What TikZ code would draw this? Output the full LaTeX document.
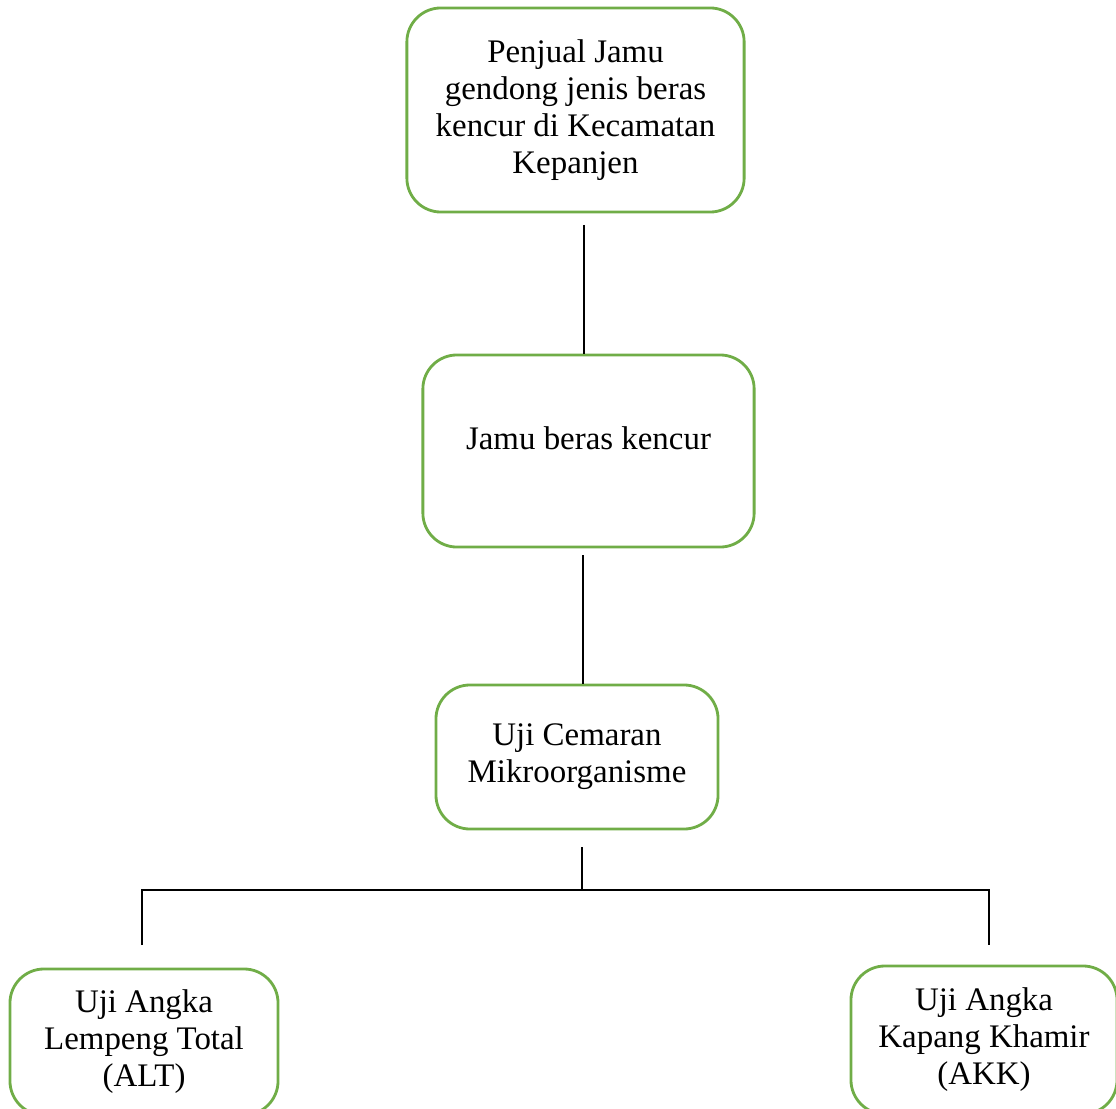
\documentclass[tikz,border=0pt]{standalone}
\usepackage{fontspec}
\setmainfont{Liberation Serif}
\usepackage{tikz}

\definecolor{boxgreen}{HTML}{70AD47}

\begin{document}
\begin{tikzpicture}[x=0.025cm, y=-0.025cm,
        stepbox/.style = {draw=boxgreen, line width=2pt, rounded corners=0.85cm,
            align=center, font = {\fontsize{23.4}{26.3}\selectfont}, text=black},
        link/.style = {black, line width=0.8pt}]
        \useasboundingbox (0,0) rectangle (1116,1109);
        \clip (0,0) rectangle (1116,1109);

        % boxes
        \node[stepbox, minimum width=8.43cm, minimum height=5.1cm] (penjual) at (575.5, 110)
            {Penjual Jamu\\gendong jenis beras\\kencur di Kecamatan\\Kepanjen};
        \node[stepbox, minimum width=8.28cm, minimum height=4.8cm, text depth=0.63cm] (jamu) at (588.5, 451)
            {Jamu beras kencur};
        \node[stepbox, minimum width=7.05cm, minimum height=3.6cm] (cemaran) at (577, 757)
            {Uji Cemaran\\Mikroorganisme};
        \node[stepbox, minimum width=6.7cm, minimum height=3.65cm] (alt) at (144, 1042)
            {Uji Angka\\Lempeng Total\\(ALT)};
        \node[stepbox, minimum width=6.65cm, minimum height=3.7cm] (akk) at (984, 1040)
            {Uji Angka\\Kapang Khamir\\(AKK)};

        % connectors
        \coordinate (c1) at (584, 225);
        \coordinate (c2) at (583, 555);
        \coordinate (c3) at (582, 847);
        \coordinate (barL) at (142, 890);
        \coordinate (barR) at (989, 890);
        \coordinate (legL) at (142, 945);
        \coordinate (legR) at (989, 945);

        \draw[link] (c1) -- (c1 |- jamu.north);
        \draw[link] (c2) -- (c2 |- cemaran.north);
        \draw[link] (c3) -- (c3 |- barL);
        \draw[link] (legL) -- (barL) -- (barR) -- (legR);
    \end{tikzpicture}
\end{document}
